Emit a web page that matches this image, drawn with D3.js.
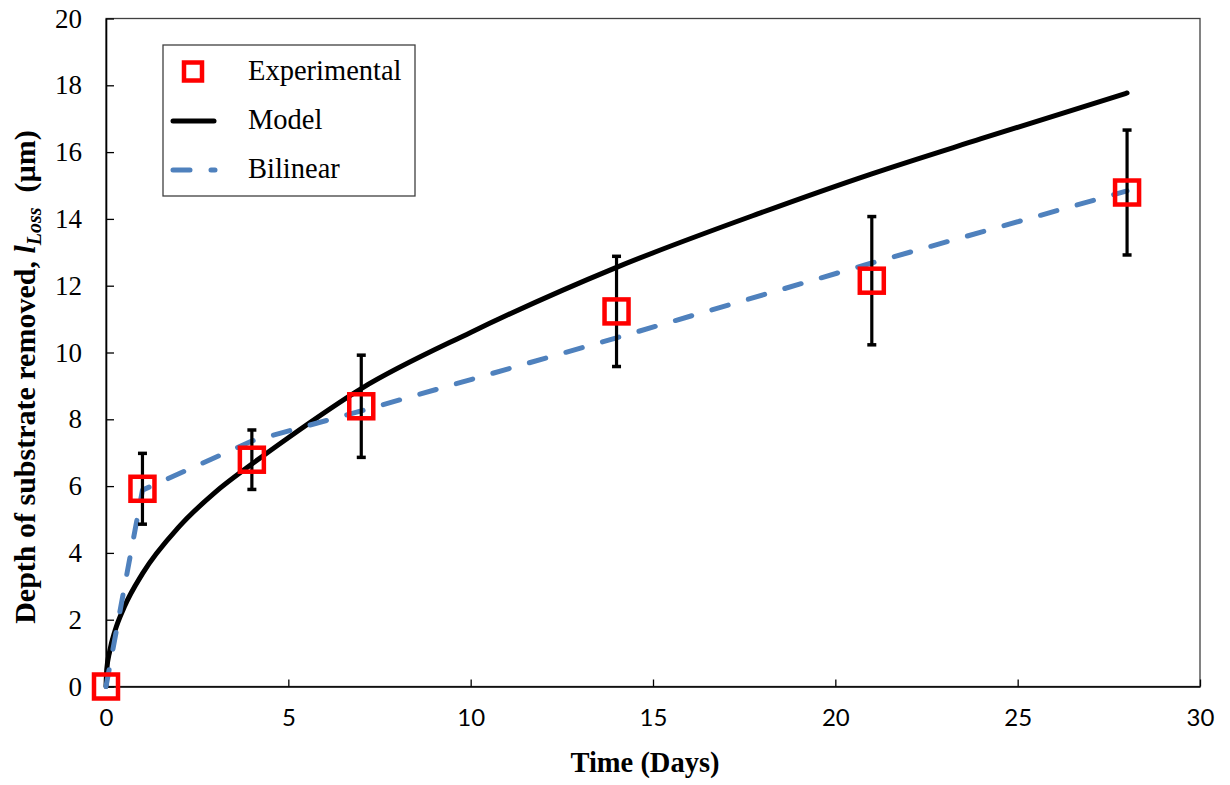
<!DOCTYPE html>
<html>
<head>
<meta charset="utf-8">
<script src="https://cdn.jsdelivr.net/npm/d3@7"></script>
<style>
  body { margin: 0; background: #fff; }
  svg { display: block; }
</style>
</head>
<body>
<svg id="chart"></svg>
<script>
// measured depth at each sampling day, with +/- error
var days = [0, 1, 4, 7, 14, 21, 28];
var depth = [0, 5.92, 6.79, 8.39, 11.23, 12.15, 14.79];
var depthErr = [0, 1.06, 0.89, 1.53, 1.65, 1.92, 1.87];

// model curve
var modelDays = [0, 0.02, 0.1, 0.25, 0.5, 1, 2, 3, 4, 5, 7, 10, 14, 18, 21, 24, 28];
var modelDepth = [0, 0.5, 1.05, 1.68, 2.38, 3.38, 4.78, 5.82, 6.66, 7.45, 8.92, 10.6, 12.55, 14.2, 15.35, 16.4, 17.77];

// bilinear fit
var bilinDays = [0, 1, 4, 7, 14, 21, 28];
var bilinDepth = [0, 5.88, 7.35, 8.25, 10.44, 12.68, 14.84];

var xTicks = [0, 5, 10, 15, 20, 25, 30];
var yTicks = [0, 2, 4, 6, 8, 10, 12, 14, 16, 18, 20];

var svgWidth = 1230, svgHeight = 785;
var padLeft = 106, padTop = 18.5, plotW = 1094, plotH = 668;

var svg = d3.select('#chart')
    .attr("width", svgWidth)
    .attr("height", svgHeight);

var x = d3.scaleLinear().domain([0, 30]).range([padLeft, padLeft + plotW]);
var y = d3.scaleLinear().domain([0, 20]).range([padTop + plotH, padTop]);

// plot frame
svg.append("rect")
    .attr("x", padLeft).attr("y", padTop)
    .attr("width", plotW).attr("height", plotH)
    .style("fill", "none")
    .style("stroke", "#404040")
    .style("stroke-width", 1.3);

var xAxis = d3.axisBottom(x).tickValues(xTicks).tickSizeInner(-7).tickSizeOuter(0).tickPadding(22);
var yAxis = d3.axisLeft(y).tickValues(yTicks).tickSizeInner(-8).tickSizeOuter(0).tickPadding(24);

var gx = svg.append("g")
    .attr("transform", "translate(0," + (padTop + plotH) + ")")
    .call(xAxis);
gx.selectAll("text")
    .style("font", "24px Lato")
    .style("fill", "#000");

var gy = svg.append("g")
    .attr("transform", "translate(" + padLeft + ",0)")
    .call(yAxis);
gy.selectAll("text")
    .style("font", "27px 'Liberation Serif'")
    .style("fill", "#000");

[gx, gy].forEach(function (g) {
    g.select(".domain").style("stroke", "#000").style("stroke-width", 1.6);
    g.selectAll(".tick line").style("stroke", "#000").style("stroke-width", 1.3);
});

// axis titles
svg.append("text").text("Time (Days)")
    .attr("x", 645).attr("y", 772)
    .attr("text-anchor", "middle")
    .style("font", "bold 28.5px 'Liberation Serif'");

var ylab = svg.append("text")
    .attr("text-anchor", "middle")
    .attr("transform", "translate(35,377)rotate(-90)")
    .style("font", "bold 30px 'Liberation Serif'");
ylab.append("tspan").text("Depth of substrate removed, ");
ylab.append("tspan").text("l").style("font-style", "italic");
ylab.append("tspan").text("Loss").style("font-style", "italic")
    .style("font-size", "20px").attr("dy", 6);
ylab.append("tspan").text("\u00a0\u00a0(\u00b5m)").attr("dy", -6);

// lines
var smoothLine = d3.line()
    .x(function (d) { return x(d[0]); })
    .y(function (d) { return y(d[1]); })
    .curve(d3.curveMonotoneX);

var straightLine = d3.line()
    .x(function (d) { return x(d[0]); })
    .y(function (d) { return y(d[1]); });

svg.append("path")
    .datum(d3.zip(modelDays, modelDepth))
    .attr("d", smoothLine)
    .style("fill", "none")
    .style("stroke", "#000")
    .style("stroke-width", 5)
    .style("stroke-linecap", "round");

svg.append("path")
    .datum(d3.zip(bilinDays, bilinDepth))
    .attr("d", straightLine)
    .style("fill", "none")
    .style("stroke", "#4F81BD")
    .style("stroke-width", 5)
    .style("stroke-dasharray", "17,21")
    .style("stroke-linecap", "round")
    .style("stroke-linejoin", "round");

// error bars
var pts = d3.zip(days, depth, depthErr).filter(function (d) { return d[2] > 0; });
var eb = svg.append("g");
pts.forEach(function (d) {
    var cx = x(d[0]);
    eb.append("line")
        .attr("x1", cx).attr("x2", cx)
        .attr("y1", y(d[1] - d[2])).attr("y2", y(d[1] + d[2]))
        .style("stroke", "#000").style("stroke-width", 3.2);
    [d[1] - d[2], d[1] + d[2]].forEach(function (v) {
        eb.append("line")
            .attr("x1", cx - 4.5).attr("x2", cx + 4.5)
            .attr("y1", y(v)).attr("y2", y(v))
            .style("stroke", "#000").style("stroke-width", 3.5);
    });
});

// experimental markers
svg.append("g").selectAll("rect")
    .data(d3.zip(days, depth))
    .enter()
    .append("rect")
    .attr("x", function (d) { return x(d[0]) - 12; })
    .attr("y", function (d) { return y(d[1]) - 12; })
    .attr("width", 24).attr("height", 24)
    .style("fill", "none")
    .style("stroke", "#FF0000")
    .style("stroke-width", 4.5);

// legend
var lg = svg.append("g");
lg.append("rect")
    .attr("x", 163).attr("y", 45)
    .attr("width", 252).attr("height", 151)
    .style("fill", "#fff")
    .style("stroke", "#404040")
    .style("stroke-width", 1.3);

lg.append("rect")
    .attr("x", 184).attr("y", 62.5).attr("width", 18).attr("height", 18)
    .style("fill", "none").style("stroke", "#FF0000").style("stroke-width", 4.5);

lg.append("line")
    .attr("x1", 173).attr("x2", 214).attr("y1", 121).attr("y2", 121)
    .style("stroke", "#000").style("stroke-width", 5).style("stroke-linecap", "round");

lg.append("line")
    .attr("x1", 173).attr("x2", 215).attr("y1", 170).attr("y2", 170)
    .style("stroke", "#4F81BD").style("stroke-width", 5)
    .style("stroke-dasharray", "17,21").style("stroke-linecap", "round");

["Experimental", "Model", "Bilinear"].forEach(function (t, i) {
    lg.append("text").text(t)
        .attr("x", 248).attr("y", 80 + i * 49)
        .style("font", "28.5px 'Liberation Serif'");
});
</script>
</body>
</html>
